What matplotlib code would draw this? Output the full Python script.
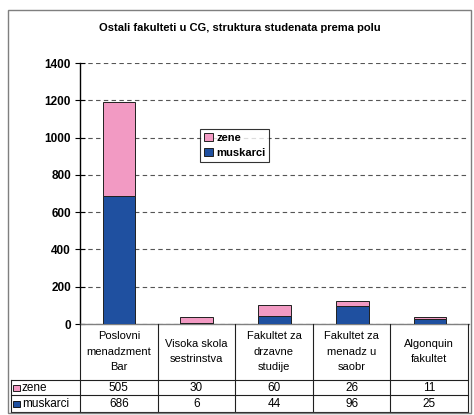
import matplotlib
matplotlib.use("Agg")
import matplotlib.pyplot as plt
from matplotlib.patches import Rectangle
from matplotlib.lines import Line2D

plt.rcParams["font.family"] = ["Liberation Sans", "DejaVu Sans"]

categories = ["Poslovni\nmenadzment\nBar", "Visoka skola\nsestrinstva",
              "Fakultet za\ndrzavne\nstudije", "Fakultet za\nmenadz u\nsaobr",
              "Algonquin\nfakultet"]
zene = [505, 30, 60, 26, 11]
muskarci = [686, 6, 44, 96, 25]
series_names = ["zene", "muskarci"]
yticks = [0, 200, 400, 600, 800, 1000, 1200, 1400]

pink = "#F29AC3"
blue = "#1F50A0"

W, H = 474, 415
fig = plt.figure(figsize=(W / 100, H / 100), dpi=100)


def fx(px):
    return px / W


def fy(py):
    return 1 - py / H


# outer chart frame
fig.patches.append(Rectangle((fx(8), fy(413)), fx(471) - fx(8), fy(10) - fy(413),
                             transform=fig.transFigure, fill=False,
                             edgecolor="#7f7f7f", lw=1.0))

fig.text(fx(240), fy(28), "Ostali fakulteti u CG, struktura studenata prema polu",
         ha="center", va="center", fontsize=8, fontweight="bold")

left, right, top, bottom = 80, 469, 63, 324
ax = fig.add_axes([fx(left), fy(bottom), fx(right) - fx(left), fy(top) - fy(bottom)])
x = list(range(len(categories)))
ax.bar(x, muskarci, width=0.42, color=blue, edgecolor="#202020", lw=0.7,
       label=series_names[1], zorder=3)
ax.bar(x, zene, width=0.42, bottom=muskarci, color=pink, edgecolor="#202020", lw=0.7,
       label=series_names[0], zorder=3)
ax.set_xlim(-0.5, len(categories) - 0.5)
ax.set_ylim(0, 1400)
ax.set_yticks(yticks)
ax.set_yticklabels([str(v) for v in yticks], fontsize=8.5, fontweight="bold")
ax.set_xticks([])
ax.tick_params(axis="y", direction="inout", length=7, width=0.8, pad=3)
ax.grid(axis="y", color="#555555", linestyle=(0, (4, 3)), lw=0.8, zorder=0)
for s in ["top", "right"]:
    ax.spines[s].set_visible(False)
ax.spines["left"].set_color("black")
ax.spines["left"].set_linewidth(1.0)
ax.spines["bottom"].set_color("#808080")
ax.spines["bottom"].set_linewidth(1.0)

handles, labels = ax.get_legend_handles_labels()
leg = ax.legend(handles[::-1], labels[::-1], loc="upper left",
                bbox_to_anchor=((200 - left) / (right - left), (129 - top) / (top - bottom) + 1),
                prop={"size": 8, "weight": "bold"}, frameon=True, fancybox=False,
                handlelength=0.8, handleheight=0.8, handletextpad=0.3,
                borderpad=0.35, labelspacing=0.45, borderaxespad=0)
leg.get_frame().set_edgecolor("black")
leg.get_frame().set_linewidth(0.8)

# data table below the chart
tax = fig.add_axes([0, 0, 1, 1])
tax.set_xlim(0, W)
tax.set_ylim(H, 0)
tax.axis("off")

n = len(categories)
colw = (right - 1 - left) / n
bounds = [left + i * colw for i in range(n + 1)]
r0, r1, r2, r3 = 324, 380, 395, 412
lk = dict(color="#202020", lw=0.8)
for b in bounds:
    tax.add_line(Line2D([b, b], [r0, r3], **lk))
tax.add_line(Line2D([11, 11], [r1, r3], **lk))
for r in [r1, r2, r3]:
    tax.add_line(Line2D([11, bounds[-1]], [r, r], **lk))

for i, c in enumerate(categories):
    cx = (bounds[i] + bounds[i + 1]) / 2
    tax.text(cx, (r0 + r1) / 2 - 0.5, c, ha="center", va="center", fontsize=8,
             linespacing=1.7)
    tax.text(cx, (r1 + r2) / 2 + 0.5, str(zene[i]), ha="center", va="center", fontsize=8.5)
    tax.text(cx, (r2 + r3) / 2 + 0.5, str(muskarci[i]), ha="center", va="center", fontsize=8.5)

for (ra, rb), name, col in [((r1, r2), series_names[0], pink), ((r2, r3), series_names[1], blue)]:
    cy = (ra + rb) / 2
    tax.add_patch(Rectangle((13.5, cy - 3), 6.5, 6.5, facecolor=col, edgecolor="black", lw=0.6))
    tax.text(22, cy + 0.5, name, ha="left", va="center", fontsize=8.5)

fig.savefig("out.png", dpi=100)
